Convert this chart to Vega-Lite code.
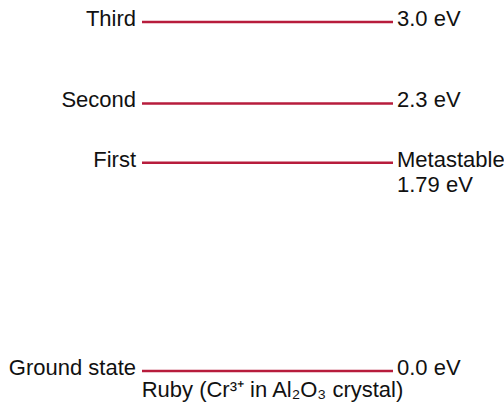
{
  "$schema": "https://vega.github.io/schema/vega-lite/v6.json",
  "width": 251,
  "height": 349,
  "autosize": {"type": "none"},
  "padding": {"left": 142, "top": 22, "right": 111, "bottom": 32},
  "background": "white",
  "config": {"view": {"stroke": null}, "font": "Liberation Sans"},
  "data": {
    "values": [
      {"level": "Third", "energy": 3.0, "value": "3.0 eV", "sub": ""},
      {"level": "Second", "energy": 2.3, "value": "2.3 eV", "sub": ""},
      {"level": "First", "energy": 1.79, "value": "Metastable", "sub": "1.79 eV"},
      {"level": "Ground state", "energy": 0.0, "value": "0.0 eV", "sub": ""}
    ]
  },
  "encoding": {
    "y": {"field": "energy", "type": "quantitative", "scale": {"domain": [0, 3], "nice": false, "zero": false}, "axis": null}
  },
  "layer": [
    {
      "mark": {"type": "rule", "color": "#b71c3c", "strokeWidth": 2.5},
      "encoding": {
        "x": {"datum": 0, "type": "quantitative", "scale": {"domain": [0, 1], "nice": false}, "axis": null},
        "x2": {"datum": 1}
      }
    },
    {
      "mark": {"type": "text", "align": "right", "baseline": "alphabetic", "dx": -6, "dy": 4, "fontSize": 22, "color": "#111111"},
      "encoding": {
        "x": {"datum": 0, "type": "quantitative"},
        "text": {"field": "level"}
      }
    },
    {
      "mark": {"type": "text", "align": "left", "baseline": "alphabetic", "dx": 4, "dy": 4, "fontSize": 22, "color": "#111111"},
      "encoding": {
        "x": {"datum": 1, "type": "quantitative"},
        "text": {"field": "value"}
      }
    },
    {
      "transform": [{"filter": "datum.sub != ''"}],
      "mark": {"type": "text", "align": "left", "baseline": "alphabetic", "dx": 4, "dy": 29, "fontSize": 22, "color": "#111111"},
      "encoding": {
        "x": {"datum": 1, "type": "quantitative"},
        "text": {"field": "sub"}
      }
    }
  ],
  "title": {
    "text": "Ruby (Cr³⁺ in Al₂O₃ crystal)",
    "orient": "bottom",
    "anchor": "middle",
    "fontSize": 22,
    "fontWeight": "normal",
    "color": "#111111",
    "offset": 1,
    "dx": 5
  }
}
